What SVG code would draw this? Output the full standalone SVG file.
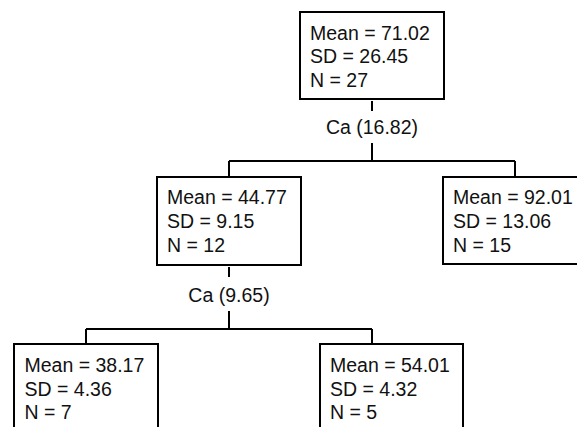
<svg xmlns="http://www.w3.org/2000/svg" width="577" height="427" viewBox="0 0 577 427">
<style>
.box{fill:#fff;stroke:#000;stroke-width:2}
.ln{fill:none;stroke:#000;stroke-width:2}
text{font-family:"Liberation Sans",Arial,sans-serif;font-size:19.5px;fill:#111}
.c{text-anchor:middle}
</style>
<rect width="577" height="427" fill="#fff"/>
<g id="connectors">
<path class="ln" d="M372 101V111M372 143V161M229 161H515M229 161V177M515 161V177"/>
<path class="ln" d="M229 267V277M229 311V329M86 329H372M86 329V344M372 329V344"/>
<text class="c" x="372" y="134">Ca (16.82)</text>
<text class="c" x="229" y="302">Ca (9.65)</text>
</g>
<g id="n0">
<rect class="box" x="300" y="12" width="144" height="87"/>
<text x="310" y="39.5">Mean = 71.02</text>
<text x="310" y="63">SD = 26.45</text>
<text x="310" y="86.5">N = 27</text>
</g>
<g id="n1">
<rect class="box" x="157" y="177" width="144" height="88"/>
<text x="167" y="204">Mean = 44.77</text>
<text x="167" y="228">SD = 9.15</text>
<text x="167" y="252">N = 12</text>
</g>
<g id="n2">
<rect class="box" x="443" y="177" width="144" height="87"/>
<text x="453" y="204">Mean = 92.01</text>
<text x="453" y="228">SD = 13.06</text>
<text x="453" y="252">N = 15</text>
</g>
<g id="n3">
<rect class="box" x="14" y="344" width="144" height="88"/>
<text x="24.5" y="372">Mean = 38.17</text>
<text x="24.5" y="395.5">SD = 4.36</text>
<text x="24.5" y="419">N = 7</text>
</g>
<g id="n4">
<rect class="box" x="320" y="344" width="143" height="88"/>
<text x="330" y="372">Mean = 54.01</text>
<text x="330" y="395.5">SD = 4.32</text>
<text x="330" y="419">N = 5</text>
</g>
</svg>
